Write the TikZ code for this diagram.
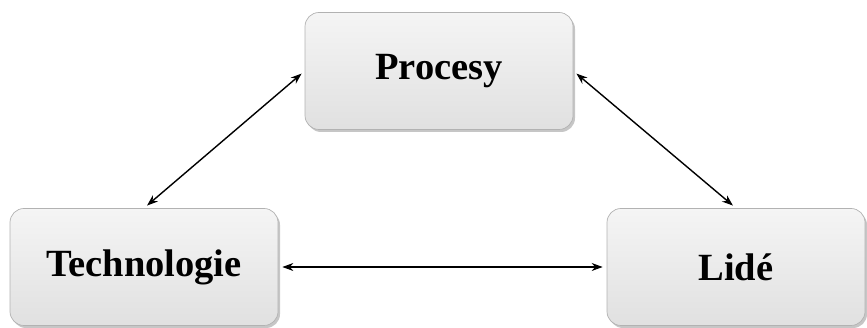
\documentclass[tikz,border=0pt]{standalone}
\usepackage{fontspec}
\setmainfont{Liberation Serif}
\usetikzlibrary{arrows.meta,shadows}
\def\bw{268}
\def\bh{117}
\def\gap{4}

\tikzset{
  box/.style={draw=black!30, line width=0.7pt, rounded corners=14pt,
    top color=black!4, bottom color=black!12,
    drop shadow={shadow xshift=2pt, shadow yshift=-2.5pt, opacity=0.45},
    minimum width=\bw pt, minimum height=\bh pt, inner sep=0pt,
    font=\fontsize{38.5}{40}\selectfont\bfseries},
  link/.style={{Stealth[length=11pt,width=8pt]}-{Stealth[length=11pt,width=8pt]}, line width=1.4pt,
    shorten <=\gap pt, shorten >=\gap pt}
}

\begin{document}
\begin{tikzpicture}[x=1pt, y=1pt]
  \useasboundingbox (0,0) rectangle (867,328);

  % boxes
  \node[box] (proc) at (439,257) {Procesy};
  \node[box] (tech) at (144,61) {Technologie};
  \node[box, minimum width=258pt] (lide) at (736,61) {Lidé};

  % arrows
  \draw[link] (proc.west) -- (tech.north);
  \draw[link] (proc.east) -- (lide.north);
  \draw[link] (tech.east) -- (lide.west);
\end{tikzpicture}
\end{document}
